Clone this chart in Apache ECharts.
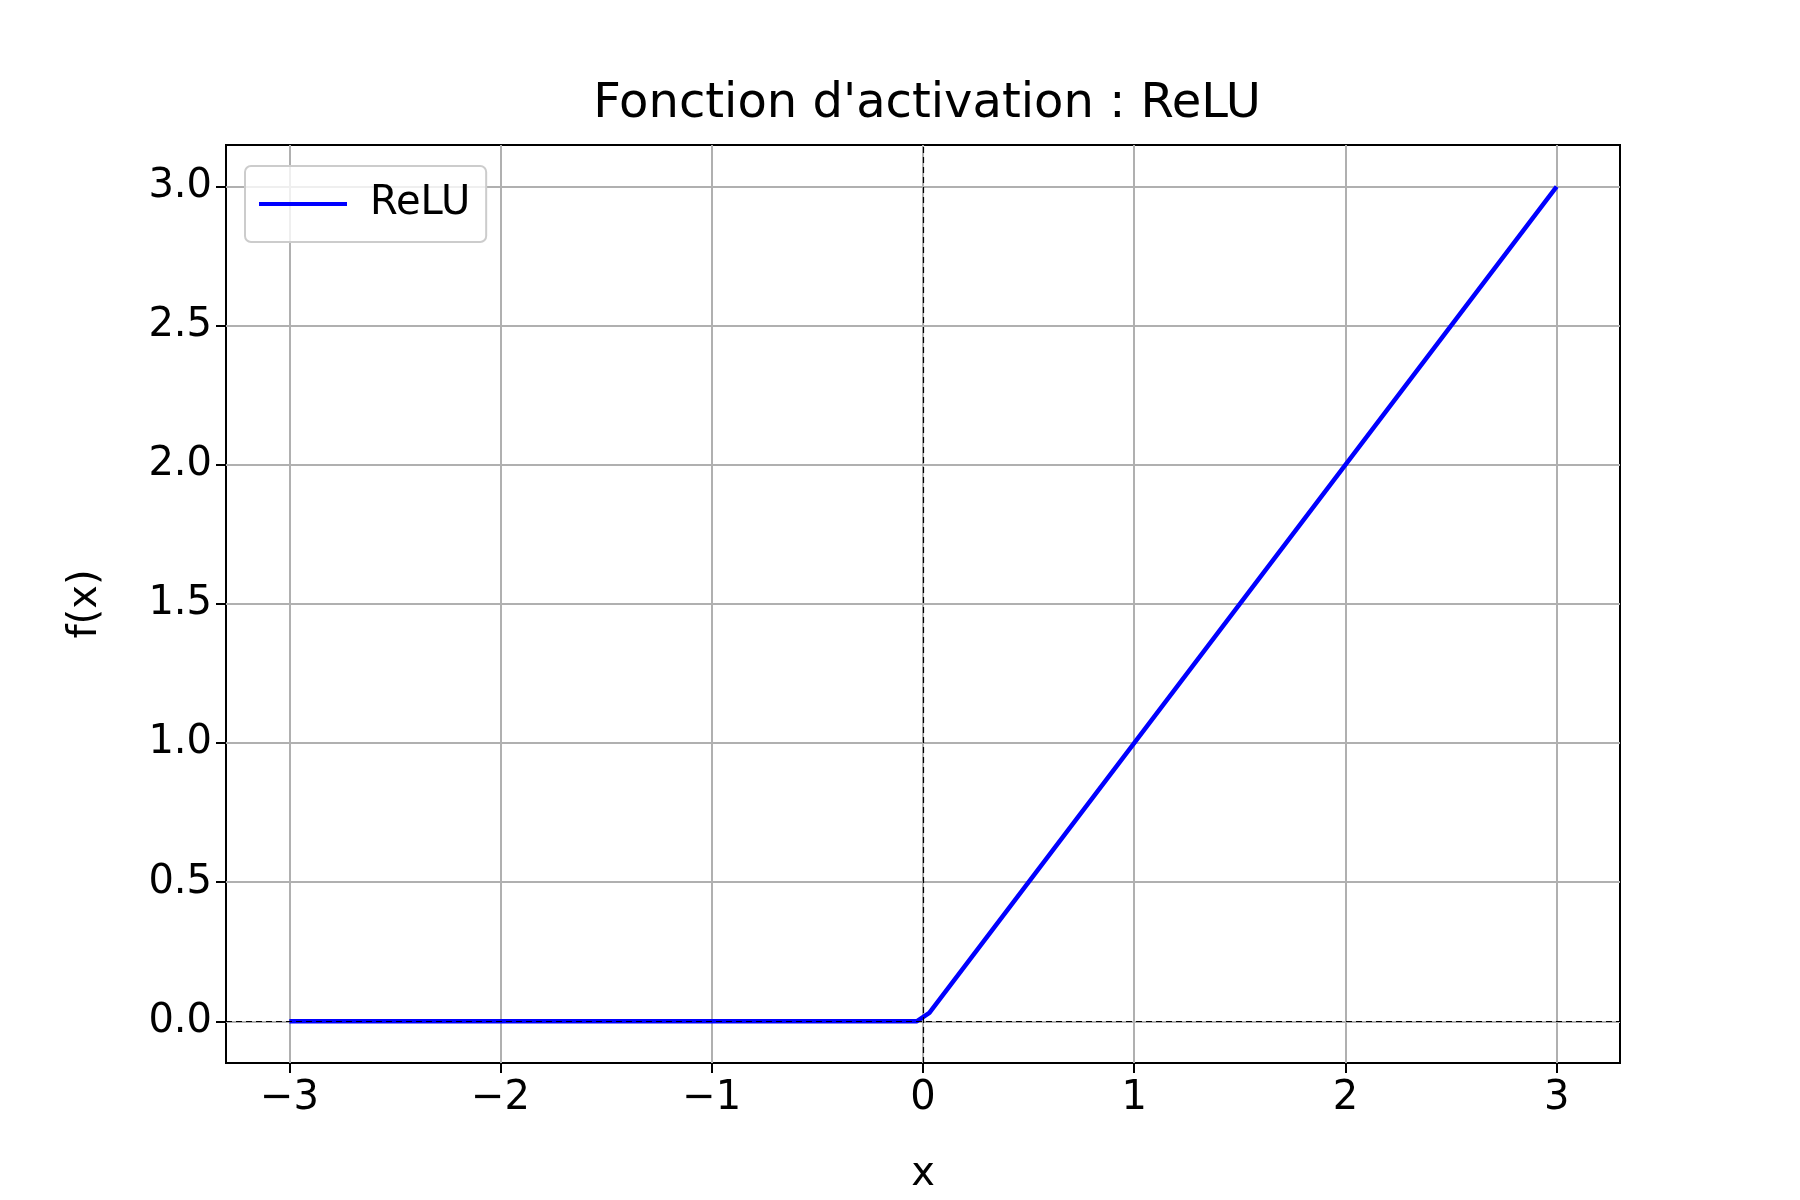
<!DOCTYPE html>
<html>
<head>
<meta charset="utf-8">
<script src="https://cdn.jsdelivr.net/npm/echarts@6/dist/echarts.min.js"></script>
<style>html,body{margin:0;background:#fff}#c{width:1800px;height:1200px}</style>
</head>
<body>
<div id="c"></div>
<script>
// sampled points of the ReLU curve
var xs = [-3, -0.03, 0.03, 3];
var ys = [0, 0, 0.03, 3];
var xTicks = [-3, -2, -1, 0, 1, 2, 3];
var yTicks = [0, 0.5, 1, 1.5, 2, 2.5, 3];

var pts = xs.map(function (x, i) { return [x, ys[i]]; });
var font = 'DejaVu Sans';
function minus(v) { return String(v).replace('-', '\u2212'); }

var chart = echarts.init(document.getElementById('c'));
chart.setOption({
    animation: false,
    title: {
        text: "Fonction d'activation : ReLU",
        left: 922, top: 76, textAlign: 'center',
        textStyle: { fontFamily: font, fontSize: 48, fontWeight: 'normal', color: '#000' }
    },
    legend: {
        left: 245, top: 166,
        padding: [18, 16, 18, 14],
        itemWidth: 88, itemHeight: 4, itemGap: 10,
        borderColor: '#ccc', borderWidth: 2, borderRadius: 6,
        backgroundColor: 'rgba(255,255,255,0.8)',
        textStyle: { fontFamily: font, fontSize: 40, color: '#000', padding: [0, 0, 0, 18] },
        data: [{ name: 'ReLU', icon: 'rect' }]
    },
    grid: { left: 226, right: 180, top: 145, bottom: 132, show: true, borderColor: '#000', borderWidth: 2 },
    xAxis: {
        type: 'value', min: -3.3, max: 3.3,
        name: 'x', nameLocation: 'middle', nameGap: 92,
        nameTextStyle: { fontFamily: font, fontSize: 40, color: '#000' },
        axisLine: { show: false, onZero: false },
        axisTick: { customValues: xTicks, length: 10, lineStyle: { color: '#000', width: 2 } },
        axisLabel: { customValues: xTicks, formatter: minus, margin: 16, fontFamily: font, fontSize: 40, color: '#000' },
        splitLine: { show: true, lineStyle: { color: '#b0b0b0', width: 2 } }
    },
    yAxis: {
        type: 'value', min: -0.15, max: 3.15,
        name: 'f(x)', nameLocation: 'middle', nameGap: 120, nameRotate: 90,
        nameTextStyle: { fontFamily: font, fontSize: 40, color: '#000' },
        axisLine: { show: false, onZero: false },
        axisTick: { customValues: yTicks, length: 10, lineStyle: { color: '#000', width: 2 } },
        axisLabel: { customValues: yTicks, formatter: function (v) { return v.toFixed(1); }, margin: 14, fontFamily: font, fontSize: 40, color: '#000' },
        splitLine: { show: true, lineStyle: { color: '#b0b0b0', width: 2 } }
    },
    series: [{
        name: 'ReLU', type: 'line', data: pts, showSymbol: false,
        lineStyle: { color: '#0000ff', width: 4.5 }, itemStyle: { color: '#0000ff' },
        z: 3,
        markLine: {
            silent: true, symbol: 'none', label: { show: false },
            lineStyle: { color: '#000', type: [6, 4], width: 1.2 },
            data: [{ xAxis: 0 }, { yAxis: 0 }]
        }
    }]
});
</script>
</body>
</html>
